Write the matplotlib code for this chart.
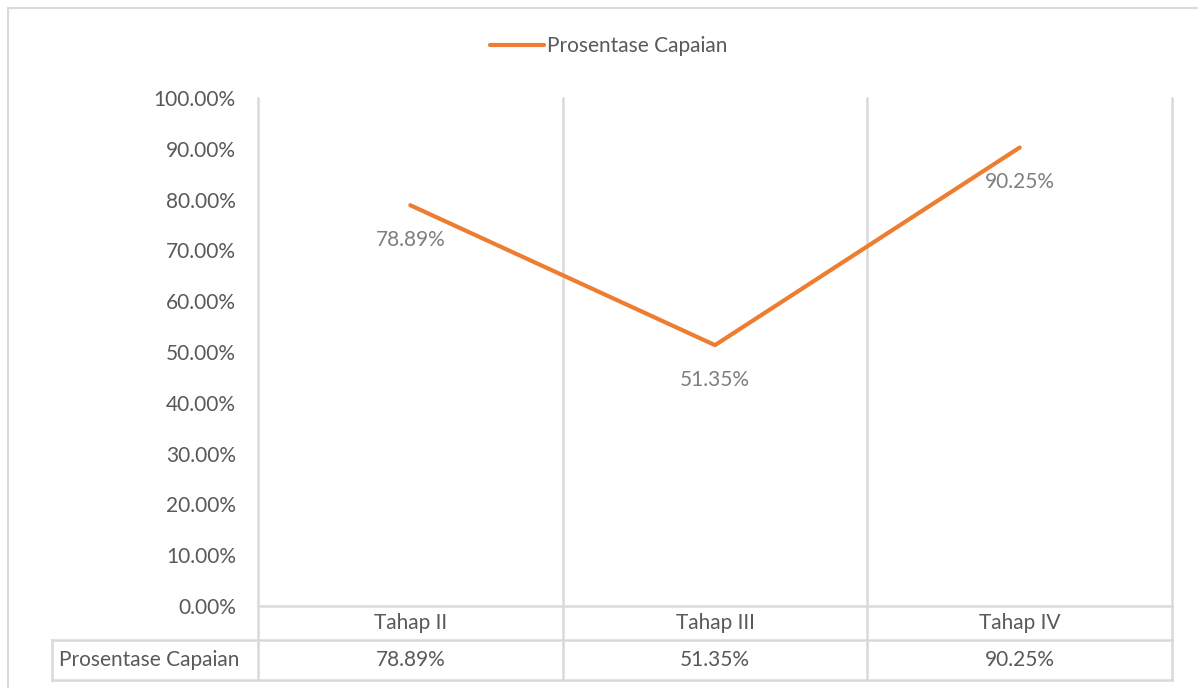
import matplotlib.pyplot as plt
from matplotlib.patches import Rectangle

# data
categories = ["Tahap II", "Tahap III", "Tahap IV"]
values = [78.89, 51.35, 90.25]
series_name = "Prosentase Capaian"
yticks = [0, 10, 20, 30, 40, 50, 60, 70, 80, 90, 100]

grid_c = "#d9d9d9"
text_c = "#595959"
line_c = "#ed7d31"
fs = 15
plt.rcParams['font.family'] = ['Lato', 'DejaVu Sans']

W, H = 1198, 688
fig = plt.figure(figsize=(W / 100, H / 100), dpi=100)

# outer chart border
fig.patches.append(Rectangle((8 / W, -0.01), 1.1, 1 - 8 / H + 0.01, transform=fig.transFigure,
                             fill=False, edgecolor=grid_c, linewidth=1.5))

ax = fig.add_axes([258 / W, 1 - 606 / H, (1172 - 258) / W, (606 - 98) / H])
x = list(range(len(categories)))
ax.plot(x, values, color=line_c, linewidth=3, solid_capstyle='round', label=series_name, zorder=3)

ax.set_xlim(-0.5, len(categories) - 0.5)
ax.set_ylim(0, 100)
ax.set_yticks(yticks)
ax.set_yticklabels([f"{v:.2f}%" for v in yticks], fontsize=fs, color=text_c)
ax.tick_params(axis='y', length=0, pad=16)
ax.set_xticks([])
for s in ax.spines.values():
    s.set_visible(False)

# data labels below points
for xi, v in zip(x, values):
    ax.annotate(f"{v:.2f}%", (xi, v), xytext=(0, -25), textcoords='offset points',
                ha='center', va='center', fontsize=fs, color="#7f7f7f")

# table rows in axes fraction
r1 = -(640 - 606) / 508
r2 = -(680 - 606) / 508
left = -0.5 - 206 / ((1172 - 258) / 3)
tr = ax.get_xaxis_transform()
lk = dict(color=grid_c, linewidth=1.8, clip_on=False, transform=tr, zorder=1)

for b in [i - 0.5 for i in range(len(categories) + 1)]:
    ax.plot([b, b], [r2, 1], **lk)
ax.plot([-0.5, len(categories) - 0.5], [0, 0], **lk)
ax.plot([left, len(categories) - 0.5], [r1, r1], **lk)
ax.plot([left, len(categories) - 0.5], [r2, r2], **lk)
ax.plot([left, left], [r1, r2], **lk)

for xi, c, v in zip(x, categories, values):
    ax.text(xi, r1 / 2, c, transform=tr, ha='center', va='center', fontsize=fs, color=text_c)
    ax.text(xi, (r1 + r2) / 2, f"{v:.2f}%", transform=tr, ha='center', va='center',
            fontsize=fs, color=text_c)
ax.text(left + 0.022, (r1 + r2) / 2, series_name, transform=tr, ha='left', va='center',
        fontsize=fs, color=text_c)

leg = fig.legend(loc='center', bbox_to_anchor=(0.508, 1 - 46 / H), frameon=False,
                 fontsize=fs, handlelength=2.6, handletextpad=0.1, labelcolor=text_c)

fig.savefig("out.png", dpi=100)
